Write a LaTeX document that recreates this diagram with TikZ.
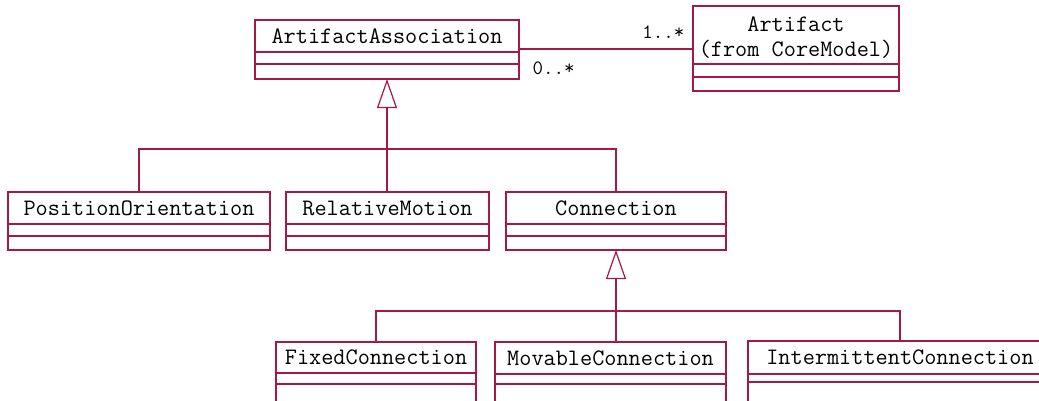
\documentclass[tikz,border=0pt]{standalone}
\usepackage{fontspec}
\usetikzlibrary{arrows.meta,positioning}
\definecolor{umlred}{RGB}{165,25,70}

\begin{document}
\begin{tikzpicture}[
  x=1pt, y=-1pt,
  classbox/.style={draw=umlred,line width=1.2pt,inner sep=0pt,outer sep=0pt,
    minimum width=#1,minimum height=32pt,align=center,
    font=\ttfamily\fontsize{23.6pt}{25pt}\selectfont},
  attbox/.style={classbox=#1,minimum height=12pt},
  opbox/.style={classbox=#1,minimum height=15pt},
  link/.style={draw=umlred,line width=1.2pt},
  inherit/.style={link,-{Triangle[open,fill=white,length=29pt,width=20pt]}},
  mult/.style={inner sep=0pt,font=\ttfamily\fontsize{20.4pt}{22pt}\selectfont}]

  \clip (0,0) rectangle (1039,400);
  \fill[white] (0,0) rectangle (1039,400);

  % Top row
  \node[classbox=264pt] (assoc) at (387,36) {ArtifactAssociation};
  \node[attbox=264pt,below=0pt of assoc] (assoc-att) {};
  \node[opbox=264pt,below=0pt of assoc-att] (assoc-op) {};

  \node[classbox=206pt,minimum height=58pt] (artifact) at (796,35) {};
  \node[inner sep=0pt,align=center,font=\ttfamily\fontsize{23.6pt}{25pt}\selectfont]
    (artifact-name) at ([yshift=-3pt]artifact.center) {Artifact\\(from CoreModel)};
  \node[attbox=206pt,minimum height=13pt,below=0pt of artifact] (artifact-att) {};
  \node[opbox=206pt,minimum height=14pt,below=0pt of artifact-att] (artifact-op) {};

  % Middle row
  \node[classbox=262pt] (posor) at (139,208) {PositionOrientation};
  \node[attbox=262pt,below=0pt of posor] (posor-att) {};
  \node[opbox=262pt,minimum height=14pt,below=0pt of posor-att] (posor-op) {};

  \node[classbox=203pt] (relmot) at (387.5,208) {RelativeMotion};
  \node[attbox=203pt,below=0pt of relmot] (relmot-att) {};
  \node[opbox=203pt,minimum height=14pt,below=0pt of relmot-att] (relmot-op) {};

  \node[classbox=220pt] (conn) at (616,208) {Connection};
  \node[attbox=220pt,below=0pt of conn] (conn-att) {};
  \node[opbox=220pt,minimum height=14pt,below=0pt of conn-att] (conn-op) {};

  % Bottom row
  \node[classbox=200pt,minimum height=31pt] (fixed) at (376,357.5) {FixedConnection};
  \node[attbox=200pt,minimum height=11pt,below=0pt of fixed] (fixed-att) {};
  \node[opbox=200pt,minimum height=20pt,below=0pt of fixed-att] (fixed-op) {};

  \node[classbox=231pt] (movable) at (610.5,358) {MovableConnection};
  \node[attbox=231pt,minimum height=10pt,below=0pt of movable] (movable-att) {};
  \node[opbox=231pt,minimum height=20pt,below=0pt of movable-att] (movable-op) {};

  \node[classbox=304pt,minimum height=33pt] (intermit) at (900,357.5) {IntermittentConnection};
  \node[attbox=304pt,minimum height=8pt,below=0pt of intermit] (intermit-att) {};
  \node[opbox=304pt,minimum height=20pt,below=0pt of intermit-att] (intermit-op) {};

  % Association
  \draw[link] ([yshift=-13pt]assoc.east) -- ([yshift=-13pt]assoc.east -| artifact.west)
    node[mult,pos=1,above left=10pt and 8pt] {1..*}
    node[mult,pos=0,below right=12pt and 13pt] {0..*};

  % Generalizations
  \coordinate (bus1) at (387,149);
  \coordinate (bus2) at (616,311);
  \draw[link] (posor.north) |- (bus1) -| (conn.north);
  \draw[inherit] (relmot.north -| bus1) -- (assoc-op.south -| bus1);
  \draw[link] (fixed.north) |- (bus2) -| (intermit.north);
  \draw[link] (movable.north -| bus2) -- (bus2);
  \draw[inherit] (bus2) -- (conn-op.south -| bus2);
\end{tikzpicture}
\end{document}
